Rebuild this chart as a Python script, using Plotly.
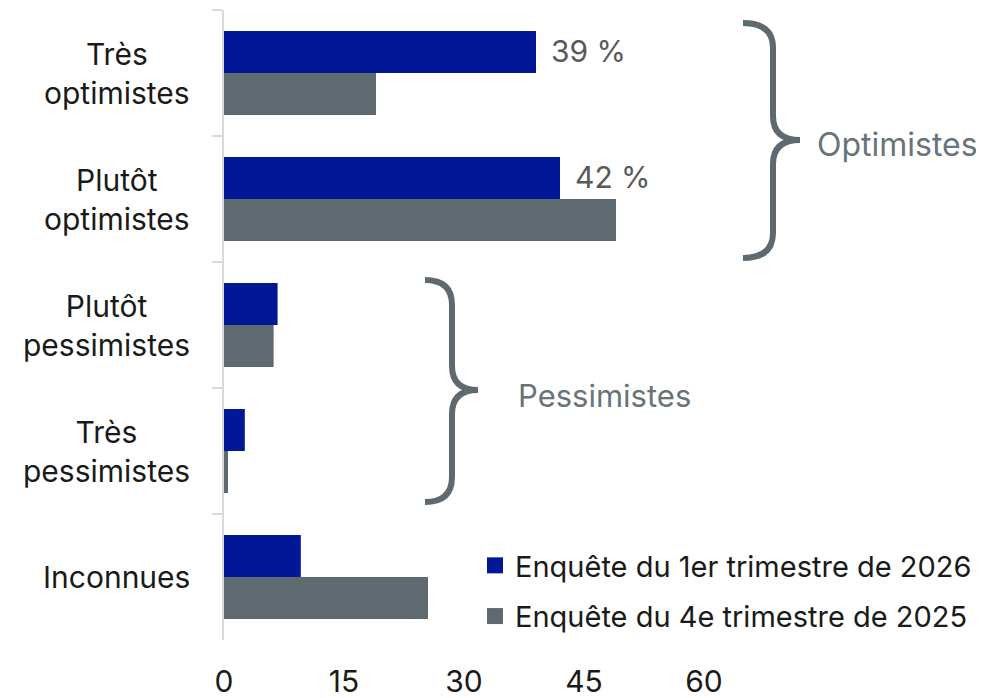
import plotly.graph_objects as go

categories = ["Très optimistes", "Plutôt optimistes", "Plutôt pessimistes", "Très pessimistes", "Inconnues"]
category_labels = ["Très<br>optimistes", "Plutôt<br>optimistes", "Plutôt<br>pessimistes", "Très<br>pessimistes", "Inconnues"]
series_2026 = [39, 42, 6.7, 2.6, 9.6]
series_2025 = [19, 49, 6.2, 0.5, 25.5]
name_2026 = "Enquête du 1er trimestre de 2026"
name_2025 = "Enquête du 4e trimestre de 2025"
data_labels = {"Très optimistes": "39 %", "Plutôt optimistes": "42 %"}
x_ticks = [0, 15, 30, 45, 60]

BLUE = "#021795"
GRAY = "#5f6a70"
FONT = "Inter"

# page has an 8px body margin; figure drawn 8px smaller to fit the window
OFF = 8
W, H = 984 - OFF, 698 - OFF
ML, MR, MT, MB = 224 - OFF, 0, 10 - OFF, 58
PW, PH = W - ML - MR, H - MT - MB


def px(x):
    return (x - OFF - ML) / PW


def py(y):
    return (MT + PH - (y - OFF)) / PH


def brace(x0, xv, xtip, ytop, ymid, ybot, r=25, r2=24):
    pts = [
        f"M {px(x0)},{py(ytop)}",
        f"Q {px(xv)},{py(ytop)} {px(xv)},{py(ytop + r)}",
        f"L {px(xv)},{py(ymid - r2)}",
        f"Q {px(xv)},{py(ymid)} {px(xtip)},{py(ymid)}",
        f"Q {px(xv)},{py(ymid)} {px(xv)},{py(ymid + r2)}",
        f"L {px(xv)},{py(ybot - r)}",
        f"Q {px(xv)},{py(ybot)} {px(x0)},{py(ybot)}",
    ]
    return " ".join(pts)


fig = go.Figure()
fig.add_trace(go.Bar(y=categories, x=series_2026, orientation="h", name=name_2026,
                     marker=dict(color=BLUE, line=dict(width=0)), showlegend=False))
fig.add_trace(go.Bar(y=categories, x=series_2025, orientation="h", name=name_2025,
                     marker=dict(color=GRAY, line=dict(width=0)), showlegend=False))
# legend entries with larger square symbols
fig.add_trace(go.Scatter(x=[None], y=[None], mode="markers", name=name_2026, legendgroup="a",
                         marker=dict(symbol="square", size=17, color=BLUE)))
fig.add_trace(go.Scatter(x=[None], y=[None], mode="markers", name=name_2025, legendgroup="b",
                         marker=dict(symbol="square", size=17, color=GRAY)))

annotations = []
for cat, lab in zip(categories, category_labels):
    annotations.append(dict(x=px(192), xref="paper", y=cat, yref="y", text=lab,
                            xanchor="right", yanchor="middle", align="center", showarrow=False,
                            font=dict(family=FONT, size=30, color="#1a1a1a")))
for cat, val in zip(categories, series_2026):
    if cat in data_labels:
        annotations.append(dict(x=val, xref="x", y=cat, yref="y", text=data_labels[cat],
                                xanchor="left", yanchor="middle", xshift=13, yshift=22,
                                showarrow=False, font=dict(family=FONT, size=30, color="#595959")))
annotations.append(dict(x=px(815), xref="paper", y=py(144), yref="paper", text="Optimistes",
                        xanchor="left", yanchor="middle", showarrow=False,
                        font=dict(family=FONT, size=32, color="#68737a")))
annotations.append(dict(x=px(516), xref="paper", y=py(395), yref="paper", text="Pessimistes",
                        xanchor="left", yanchor="middle", showarrow=False,
                        font=dict(family=FONT, size=31, color="#68737a")))

shapes = [
    dict(type="path", xref="paper", yref="paper", path=brace(743, 773, 800, 23, 140, 258),
         line=dict(color=GRAY, width=6)),
    dict(type="path", xref="paper", yref="paper", path=brace(425, 452, 478, 280, 390, 502),
         line=dict(color=GRAY, width=6)),
]

fig.update_layout(
    width=W, height=H,
    margin=dict(l=ML, r=MR, t=MT, b=MB, autoexpand=False),
    paper_bgcolor="white", plot_bgcolor="white",
    barmode="group", bargap=1 / 3, bargroupgap=0,
    font=dict(family=FONT, size=30, color="#1a1a1a"),
    xaxis=dict(range=[0, 95], tickvals=x_ticks, showgrid=False, zeroline=False, showline=False,
               ticks="", tickfont=dict(family=FONT, size=30, color="#1a1a1a"), ticklabelstandoff=21),
    yaxis=dict(autorange="reversed", type="category", showgrid=False, zeroline=False,
               showline=True, linecolor="#d9d9d9", linewidth=2, ticks="outside",
               tickson="boundaries", ticklen=10, tickcolor="#d9d9d9", tickwidth=2,
               showticklabels=False),
    legend=dict(x=px(475), y=py(540), xanchor="left", yanchor="top",
                font=dict(family=FONT, size=29, color="#1a1a1a"),
                bgcolor="rgba(0,0,0,0)", tracegroupgap=10, traceorder="grouped"),
    annotations=annotations,
    shapes=shapes,
    showlegend=True,
)

fig.write_html("out.html")
